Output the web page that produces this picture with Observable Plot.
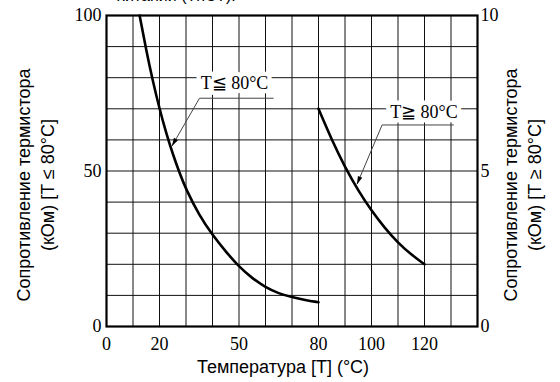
<!DOCTYPE html>
<html><head><meta charset="utf-8">
<script src="https://cdn.jsdelivr.net/npm/d3@7"></script>
<script src="https://cdn.jsdelivr.net/npm/@observablehq/plot@0.6"></script>
<style>
body{margin:0;background:#fff;overflow:hidden}
#wrap{position:relative;width:560px;height:382px;overflow:hidden;background:#fff}
#top{position:absolute;left:117px;top:-13px;font:16px "Liberation Sans",Arial,sans-serif;white-space:nowrap;color:#000}
#wrap svg{position:absolute;left:0;top:0}
</style></head><body>
<div id="wrap"><div id="top">хитании (ТнСТ).</div></div>
<script>
// Low-temperature curve (left axis, kΩ)
const lowT = [12.5, 15, 17.5, 20, 22.5, 25, 27.5, 30, 35, 40, 45, 50, 55, 60, 65, 70, 75, 80];
const lowR = [100, 88.8, 78.8, 70, 62.3, 55.5, 49.5, 44.1, 35.7, 29.4, 24.1, 19.2, 15.5, 12.6, 10.6, 9.4, 8.5, 7.8];
// High-temperature curve (right axis, kΩ)
const highT = [80, 85, 90, 95, 100, 105, 110, 115, 120];
const highR = [7.0, 6.0, 5.12, 4.37, 3.72, 3.17, 2.69, 2.31, 2.0];
// Axes
const xTicks = [0, 20, 50, 80, 100, 120];
const yLeftTicks = [0, 50, 100];
const yRightTicks = [0, 5, 10];
const xGrid = d3.range(0, 141, 10);
const yGrid = d3.range(0, 101, 10);
const xTitle = "Температура [T] (°C)";
const leftTitle = ["Сопротивление термистора", "(кОм) [T ≤ 80°C]"];
const rightTitle = ["Сопротивление термистора", "(кОм) [T ≥ 80°C]"];
// Annotations
const noteText = ["T≦ 80°C", "T≧ 80°C"];
const noteT = [48.3, 119.8];
const noteR = [78.3, 68.8];
const underT1 = [62.9, 130.9];
const underT0 = [35.1, 104.0];
const underR = [73.4, 64.8];
const tipT = [24.8, 94.6];
const tipR = [58.2, 45.9];

const rightScale = 10; // right axis 0..10 maps onto left axis 0..100

const low = lowT.map((t, i) => ({t, r: lowR[i]}));
const high = highT.map((t, i) => ({t, r: highR[i] * rightScale}));
const notes = noteText.map((s, i) => ({s, t: noteT[i], r: noteR[i]}));
const leaders = [];
noteText.forEach((s, i) => {
  leaders.push({z: i, t: underT1[i], r: underR[i]});
  leaders.push({z: i, t: underT0[i], r: underR[i]});
  leaders.push({z: i, t: tipT[i], r: tipR[i]});
});

const serif = '"Liberation Serif", "Times New Roman", serif';
const sans = '"Liberation Sans", Arial, sans-serif';

const chart = Plot.plot({
  width: 560, height: 382,
  marginLeft: 106, marginRight: 83, marginTop: 15, marginBottom: 56,
  style: {fontFamily: serif, fontSize: "18px", background: "transparent", color: "#000"},
  x: {domain: [0, 140]},
  y: {domain: [0, 100]},
  marks: [
    Plot.ruleX(xGrid, {stroke: "#111", strokeWidth: 1}),
    Plot.ruleY(yGrid, {stroke: "#111", strokeWidth: 1}),
    Plot.line(leaders, {x: "t", y: "r", z: "z", stroke: "#444", strokeWidth: 1, markerEnd: "arrow"}),
    Plot.text(notes, {x: "t", y: "r", text: "s", fontFamily: serif, fontSize: 18, fill: "#000", stroke: "white", strokeWidth: 9, textAnchor: "middle", lineAnchor: "middle"}),
    Plot.line(low, {x: "t", y: "r", curve: "basis", stroke: "#000", strokeWidth: 2.6}),
    Plot.line(high, {x: "t", y: "r", curve: "basis", stroke: "#000", strokeWidth: 2.6}),
    Plot.frame({stroke: "#000", strokeWidth: 2.2}),
    Plot.axisX(xTicks, {tickSize: 0, tickPadding: 11, label: null, fontSize: 18}),
    Plot.axisY(yLeftTicks, {anchor: "left", tickSize: 0, tickPadding: 5, label: null, fontSize: 18}),
    Plot.axisY(yRightTicks.map(d => d * rightScale), {anchor: "right", tickSize: 0, tickPadding: 3, label: null, fontSize: 18, tickFormat: d => String(d / rightScale)}),
    Plot.text([xTitle], {frameAnchor: "bottom", textAnchor: "middle", lineAnchor: "middle", dx: -9, dy: 41, fontFamily: sans, fontSize: 18}),
    Plot.text([leftTitle[0]], {frameAnchor: "left", textAnchor: "middle", lineAnchor: "middle", rotate: -90, dx: -82, dy: 14, fontFamily: sans, fontSize: 18}),
    Plot.text([leftTitle[1]], {frameAnchor: "left", textAnchor: "middle", lineAnchor: "middle", rotate: -90, dx: -58, dy: 14, fontFamily: sans, fontSize: 18}),
    Plot.text([rightTitle[0]], {frameAnchor: "right", textAnchor: "middle", lineAnchor: "middle", rotate: -90, dx: 34, dy: 14, fontFamily: sans, fontSize: 18}),
    Plot.text([rightTitle[1]], {frameAnchor: "right", textAnchor: "middle", lineAnchor: "middle", rotate: -90, dx: 58, dy: 14, fontFamily: sans, fontSize: 18})
  ]
});

// filled arrowheads on the leader lines
d3.select(chart).selectAll("marker")
  .attr("markerWidth", 10).attr("markerHeight", 10)
  .attr("viewBox", "-10 -5 12 10")
  .attr("fill", "#000").attr("stroke", "none")
  .selectAll("path").attr("d", "M-9,-2.8L1,0L-9,2.8Z");

document.getElementById("wrap").appendChild(chart);
</script>
</body></html>
